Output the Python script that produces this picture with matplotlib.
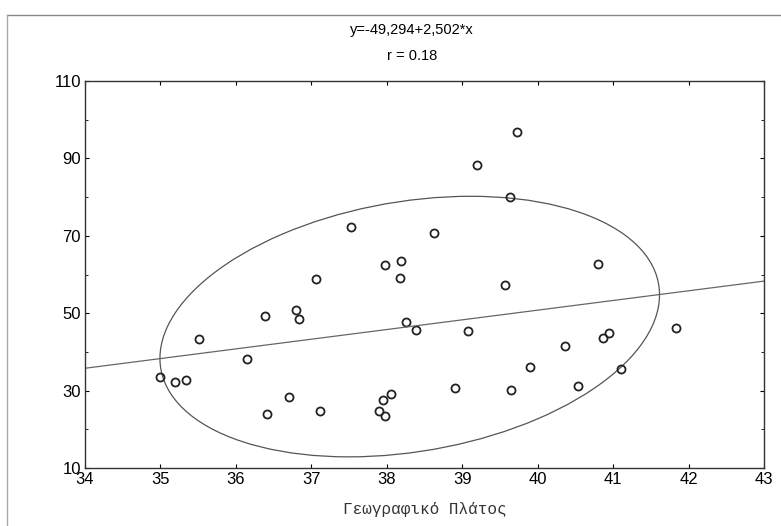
import numpy as np
import matplotlib
matplotlib.use('Agg')
import matplotlib.pyplot as plt
from matplotlib.patches import Ellipse
from matplotlib.lines import Line2D
from matplotlib.ticker import MultipleLocator

# latitude (x) and value (y)
lat = [35.00, 35.19, 35.34, 35.51, 36.15, 36.38, 36.41, 36.71, 36.80, 36.83,
       37.11, 37.90, 37.95, 37.97, 38.05, 38.25, 38.39, 37.06, 37.52, 37.97,
       38.19, 38.18, 39.72, 39.19, 39.63, 38.63, 40.80, 39.57, 39.07, 38.90,
       39.65, 39.90, 40.36, 40.53, 40.87, 40.95, 41.10, 41.83]
val = [33.5, 32.2, 32.7, 43.3, 38.1, 49.4, 23.9, 28.3, 50.7, 48.4,
       24.7, 24.7, 27.6, 23.5, 29.0, 47.8, 45.6, 58.8, 72.2, 62.4,
       63.4, 59.2, 96.7, 88.3, 79.9, 70.6, 62.6, 57.4, 45.4, 30.8,
       30.2, 36.0, 41.5, 31.3, 43.7, 45.0, 35.7, 46.1]

# regression printed on the chart
intercept = -49.294
slope = 2.502
r_value = 0.18
ell_k = 1.83   # ellipse size in std units (matched to the picture)

x_ticks = [34, 35, 36, 37, 38, 39, 40, 41, 42, 43]
y_ticks = [10, 30, 50, 70, 90, 110]

lat = np.array(lat)
val = np.array(val)

fig = plt.figure(figsize=(7.81, 5.26), dpi=100)
ax = fig.add_axes([85/781, 58/526, 679/781, 387/526])

ax.plot(lat, val, 'o', ms=5.8, mfc='none', mec='#222222', mew=1.3)

# regression line
xl = np.array([x_ticks[0], x_ticks[-1]])
ax.plot(xl, intercept + slope*xl, color='#666666', lw=0.9)

# ellipse from the data covariance, centred on the regression line at mean x
cov = np.cov(lat, val)
w, v = np.linalg.eigh(cov)
ang = np.degrees(np.arctan2(v[1, 1], v[0, 1]))
cx = lat.mean()
cy = intercept + slope*cx
ell = Ellipse((cx, cy), 2*ell_k*np.sqrt(w[1]), 2*ell_k*np.sqrt(w[0]),
              angle=ang, fill=False, ec='#555555', lw=0.9)
ax.add_patch(ell)

ax.set_xlim(x_ticks[0], x_ticks[-1])
ax.set_ylim(y_ticks[0], y_ticks[-1])
ax.set_xticks(x_ticks)
ax.set_yticks(y_ticks)
ax.yaxis.set_minor_locator(MultipleLocator(10))
ax.tick_params(direction='in', length=3, width=0.8, top=True, right=True,
               labelsize=12, pad=3)
ax.tick_params(which='minor', direction='in', length=2, right=True)
for lab in ax.get_xticklabels() + ax.get_yticklabels():
    lab.set_fontfamily('Liberation Sans')
for s in ax.spines.values():
    s.set_linewidth(1.0)
    s.set_color('#333333')

ax.set_xlabel('Γεωγραφικό Πλάτος', fontfamily='Liberation Mono', fontsize=11.5,
              labelpad=11, color='#333333')

eq = 'y={}+{}*x'.format(f'{intercept:.3f}'.replace('.', ','), f'{slope:.3f}'.replace('.', ','))
fig.text(412/781, 1 - 30/526, eq, ha='center', va='center', fontsize=10.5,
         fontfamily='Liberation Sans')
fig.text(412/781, 1 - 56/526, f'r = {r_value:.2f}', ha='center', va='center',
         fontsize=10.5, fontfamily='Liberation Sans')

# scan border
fig.add_artist(Line2D([7/781, 1], [1 - 15/526, 1 - 15/526], color='#888888', lw=1))
fig.add_artist(Line2D([7/781, 7/781], [0, 1 - 15/526], color='#aaaaaa', lw=1))

fig.savefig('out.png', dpi=100)
